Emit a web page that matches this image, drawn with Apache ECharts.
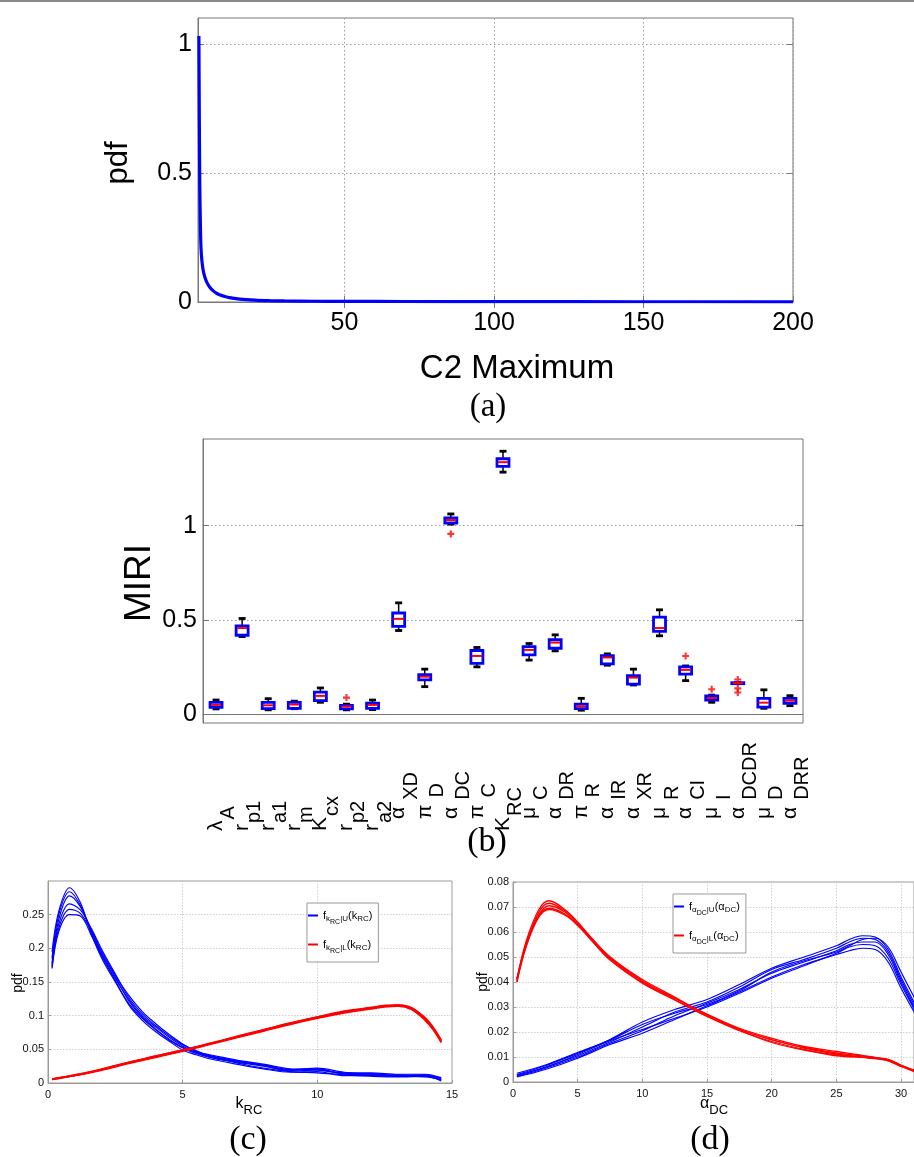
<!DOCTYPE html>
<html>
<head>
<meta charset="utf-8">
<script src="https://cdn.jsdelivr.net/npm/echarts@6/dist/echarts.min.js"></script>
<style>
  html, body { margin: 0; padding: 0; background: #fff; }
  #chart { width: 914px; height: 1157px; }
</style>
</head>
<body>
<div id="chart"></div>
<script>
// ---------- (a) pdf of the C2 maximum ----------
const c2X   = [1.3, 1.4, 1.5, 1.6, 1.8, 2.0, 2.3, 2.7, 3.2, 4, 5, 6, 7, 8, 10, 12, 15, 20, 25, 30, 40, 50, 70, 100, 150, 200];
const c2Pdf = [1.03, 0.80, 0.60, 0.45, 0.30, 0.21, 0.16, 0.125, 0.10, 0.075, 0.056, 0.044, 0.035, 0.029, 0.021, 0.016, 0.011, 0.007, 0.005, 0.004, 0.003, 0.0025, 0.002, 0.0015, 0.001, 0.0008];
const aXTicks = [50, 100, 150, 200];
const aYTicks = [0, 0.5, 1];

// ---------- (b) MIRI box plots ----------
const params = ['λ_A', 'r_p1', 'r_a1', 'r_m', 'K_cx', 'r_p2', 'r_a2', 'α_XD', 'π_D', 'α_DC', 'π_C', 'K_RC',
                'μ_C', 'α_DR', 'π_R', 'α_IR', 'α_XR', 'μ_R', 'α_CI', 'μ_I', 'α_DCDR', 'μ_D', 'α_DRR'];
const whiskerLow  = [0.027, 0.411, 0.022, 0.028, 0.062, 0.022, 0.023, 0.443, 0.145, 1.008, 0.250, 1.284, 0.286, 0.335, 0.020, 0.259, 0.154, 0.415, 0.177, 0.062, 0.161, 0.030, 0.044];
const quart1      = [0.035, 0.418, 0.028, 0.030, 0.071, 0.027, 0.030, 0.465, 0.181, 1.014, 0.269, 1.315, 0.314, 0.349, 0.028, 0.266, 0.158, 0.438, 0.211, 0.074, 0.162, 0.036, 0.057];
const medians     = [0.048, 0.456, 0.046, 0.050, 0.096, 0.040, 0.048, 0.505, 0.198, 1.030, 0.308, 1.337, 0.340, 0.379, 0.041, 0.300, 0.193, 0.456, 0.234, 0.085, 0.164, 0.060, 0.071];
const quart3      = [0.062, 0.468, 0.062, 0.062, 0.116, 0.046, 0.058, 0.536, 0.209, 1.041, 0.337, 1.355, 0.358, 0.394, 0.052, 0.310, 0.204, 0.514, 0.250, 0.096, 0.166, 0.083, 0.083];
const whiskerHigh = [0.074, 0.507, 0.081, 0.068, 0.138, 0.052, 0.074, 0.590, 0.238, 1.062, 0.353, 1.395, 0.374, 0.420, 0.083, 0.319, 0.238, 0.553, 0.255, 0.100, 0.167, 0.128, 0.097];
const outliers = [[5, 0.087], [9, 0.956], [18, 0.308], [19, 0.131], [20, 0.183], [20, 0.136], [20, 0.114]];
const bYTicks = [0, 0.5, 1];

// ---------- (c) conditional pdfs of k_RC ----------
const kX = [0.15, 0.4, 0.8, 1.2, 1.6, 2.0, 2.5, 3.0, 3.5, 4.0, 4.5, 5.0, 5.5, 6.0, 7.0, 8.0, 9.0, 10.0, 11.0, 12.0, 13.0, 14.0, 14.6];
const kU1 = [0.195, 0.255, 0.290, 0.268, 0.222, 0.185, 0.150, 0.118, 0.096, 0.079, 0.064, 0.052, 0.044, 0.038, 0.030, 0.022, 0.017, 0.015, 0.012, 0.010, 0.009, 0.010, 0.004];
const kU2 = [0.185, 0.250, 0.284, 0.264, 0.225, 0.190, 0.155, 0.124, 0.100, 0.083, 0.068, 0.055, 0.045, 0.039, 0.031, 0.025, 0.018, 0.019, 0.013, 0.012, 0.010, 0.009, 0.005];
const kU3 = [0.178, 0.243, 0.278, 0.262, 0.228, 0.195, 0.160, 0.130, 0.106, 0.088, 0.072, 0.058, 0.047, 0.040, 0.032, 0.026, 0.019, 0.021, 0.014, 0.014, 0.011, 0.012, 0.006];
const kU4 = [0.175, 0.236, 0.266, 0.257, 0.230, 0.198, 0.162, 0.127, 0.103, 0.085, 0.070, 0.057, 0.048, 0.041, 0.033, 0.027, 0.020, 0.022, 0.016, 0.013, 0.012, 0.011, 0.007];
const kU5 = [0.172, 0.230, 0.258, 0.252, 0.226, 0.192, 0.158, 0.122, 0.098, 0.080, 0.065, 0.053, 0.046, 0.042, 0.034, 0.028, 0.021, 0.020, 0.015, 0.015, 0.013, 0.013, 0.008];
const kU6 = [0.170, 0.225, 0.250, 0.248, 0.220, 0.188, 0.152, 0.116, 0.093, 0.076, 0.062, 0.049, 0.042, 0.036, 0.028, 0.021, 0.016, 0.017, 0.011, 0.011, 0.010, 0.010, 0.003];
const kXL = [0.15, 1, 2, 3, 4, 5, 6, 7, 8, 9, 10, 11, 12, 12.5, 13, 13.5, 14, 14.3, 14.6];
const kL1 = [0.006, 0.011, 0.020, 0.030, 0.039, 0.048, 0.058, 0.068, 0.078, 0.088, 0.097, 0.105, 0.111, 0.114, 0.115, 0.110, 0.094, 0.080, 0.061];
const kL2 = [0.006, 0.012, 0.021, 0.031, 0.040, 0.049, 0.059, 0.069, 0.079, 0.089, 0.098, 0.106, 0.112, 0.115, 0.116, 0.112, 0.096, 0.081, 0.062];
const kL3 = [0.005, 0.011, 0.019, 0.029, 0.038, 0.047, 0.057, 0.067, 0.077, 0.087, 0.096, 0.104, 0.110, 0.113, 0.114, 0.109, 0.093, 0.079, 0.060];
const kL4 = [0.006, 0.012, 0.020, 0.030, 0.040, 0.049, 0.058, 0.069, 0.079, 0.089, 0.098, 0.107, 0.112, 0.114, 0.116, 0.111, 0.095, 0.082, 0.063];
const kL5 = [0.005, 0.011, 0.020, 0.031, 0.039, 0.048, 0.058, 0.068, 0.078, 0.088, 0.097, 0.105, 0.111, 0.115, 0.115, 0.111, 0.097, 0.083, 0.064];

// ---------- (d) conditional pdfs of alpha_DC ----------
const aXU = [0.3, 2.5, 5, 7.5, 10, 12.5, 15, 17.5, 20, 22.5, 25, 26, 27, 28, 29, 30, 31.5];
const aU1 = [0.0030, 0.0065, 0.0115, 0.0170, 0.0240, 0.0290, 0.0330, 0.0390, 0.0455, 0.0500, 0.0545, 0.0570, 0.0585, 0.0580, 0.0530, 0.0420, 0.0270];
const aU2 = [0.0025, 0.0060, 0.0105, 0.0160, 0.0220, 0.0280, 0.0320, 0.0380, 0.0450, 0.0490, 0.0535, 0.0560, 0.0575, 0.0570, 0.0520, 0.0410, 0.0260];
const aU3 = [0.0022, 0.0055, 0.0100, 0.0155, 0.0205, 0.0265, 0.0315, 0.0370, 0.0435, 0.0480, 0.0525, 0.0550, 0.0560, 0.0560, 0.0510, 0.0400, 0.0250];
const aU4 = [0.0028, 0.0058, 0.0110, 0.0165, 0.0210, 0.0255, 0.0300, 0.0355, 0.0415, 0.0465, 0.0515, 0.0540, 0.0550, 0.0545, 0.0495, 0.0390, 0.0245];
const aU5 = [0.0020, 0.0050, 0.0095, 0.0150, 0.0195, 0.0250, 0.0305, 0.0360, 0.0420, 0.0470, 0.0510, 0.0525, 0.0535, 0.0530, 0.0480, 0.0375, 0.0235];
const aU6 = [0.0035, 0.0068, 0.0118, 0.0168, 0.0230, 0.0275, 0.0310, 0.0365, 0.0440, 0.0485, 0.0520, 0.0545, 0.0570, 0.0575, 0.0540, 0.0440, 0.0290];
const aXL = [0.3, 1, 2, 2.8, 4, 5, 6, 7.5, 10, 12.5, 15, 17.5, 20, 22.5, 25, 27.5, 29, 30, 31.5];
const aL1 = [0.041, 0.056, 0.069, 0.0725, 0.0690, 0.0640, 0.0580, 0.0500, 0.0405, 0.0335, 0.0272, 0.0215, 0.0175, 0.0142, 0.0122, 0.0102, 0.0088, 0.0065, 0.0035];
const aL2 = [0.041, 0.055, 0.067, 0.0705, 0.0680, 0.0630, 0.0578, 0.0500, 0.0410, 0.0340, 0.0268, 0.0210, 0.0170, 0.0136, 0.0112, 0.0096, 0.0085, 0.0062, 0.0033];
const aL3 = [0.040, 0.054, 0.066, 0.0690, 0.0668, 0.0628, 0.0570, 0.0490, 0.0395, 0.0328, 0.0262, 0.0205, 0.0162, 0.0130, 0.0105, 0.0098, 0.0089, 0.0066, 0.0036];
const aL4 = [0.041, 0.055, 0.068, 0.0715, 0.0685, 0.0635, 0.0575, 0.0495, 0.0402, 0.0336, 0.0270, 0.0212, 0.0168, 0.0138, 0.0116, 0.0101, 0.0090, 0.0068, 0.0037];
const aL5 = [0.040, 0.054, 0.0665, 0.0695, 0.0672, 0.0626, 0.0572, 0.0488, 0.0398, 0.0330, 0.0264, 0.0208, 0.0158, 0.0128, 0.0108, 0.0097, 0.0086, 0.0063, 0.0032];

const SANS = '"Liberation Sans", Arial, Helvetica, sans-serif';
const SERIF = '"Liberation Serif", "Times New Roman", serif';
const BLUE = '#0000ff';
const RED = '#ff0000';

const pairs = (xs, ys) => xs.map((x, i) => [x, ys[i]]);

function curve(name, xi, yi, xs, ys, color, width) {
  return {
    type: 'line', name, xAxisIndex: xi, yAxisIndex: yi,
    data: pairs(xs, ys), showSymbol: false, smooth: 0.35,
    lineStyle: { color, width }, itemStyle: { color },
    silent: true, animation: false
  };
}

// box plot glyph: black whiskers and caps, blue box, red median
function renderBox(params, api) {
  const i = api.value(0);
  const lo = api.coord([i, api.value(1)]);
  const q1 = api.coord([i, api.value(2)]);
  const md = api.coord([i, api.value(3)]);
  const q3 = api.coord([i, api.value(4)]);
  const hi = api.coord([i, api.value(5)]);
  const x = md[0];
  const bw = 12, cw = 7;
  const black = { stroke: '#000', lineWidth: 1.5 };
  const cap = { stroke: '#000', lineWidth: 2.8 };
  return {
    type: 'group',
    children: [
      { type: 'line', shape: { x1: x, y1: hi[1], x2: x, y2: q3[1] }, style: black },
      { type: 'line', shape: { x1: x, y1: q1[1], x2: x, y2: lo[1] }, style: black },
      { type: 'line', shape: { x1: x - cw / 2, y1: hi[1], x2: x + cw / 2, y2: hi[1] }, style: cap },
      { type: 'line', shape: { x1: x - cw / 2, y1: lo[1], x2: x + cw / 2, y2: lo[1] }, style: cap },
      { type: 'rect', shape: { x: x - bw / 2, y: q3[1], width: bw, height: Math.max(q1[1] - q3[1], 1) },
        style: { fill: '#fff', stroke: BLUE, lineWidth: 2.8 } },
      { type: 'line', shape: { x1: x - bw / 2 + 1, y1: md[1], x2: x + bw / 2 - 1, y2: md[1] },
        style: { stroke: RED, lineWidth: 2 } }
    ]
  };
}

const boxData = params.map((p, i) => [i, whiskerLow[i], quart1[i], medians[i], quart3[i], whiskerHigh[i]]);

// parameter names: symbol + subscript; Greek symbols carry extra spacing
function paramLabel(v) {
  const k = v.indexOf('_');
  const head = v.slice(0, k);
  const style = /[απμ]/.test(head) ? 'g' : 'm';
  return '{' + style + '|' + head + '}{s|' + v.slice(k + 1) + '}';
}

const dotted = { show: true, lineStyle: { color: '#9a9a9a', type: [1.5, 2.5], width: 1 } };
const lightDotted = { show: true, lineStyle: { color: '#cfcfcf', type: [1.5, 1.5], width: 1 } };
const smallLabel = { fontFamily: SANS, fontSize: 11, color: '#111' };

const legendRich = {
  m:  { fontFamily: SANS, fontSize: 11, lineHeight: 11, verticalAlign: 'top', color: '#000' },
  s1: { fontFamily: SANS, fontSize: 8, lineHeight: 8, padding: [5, 0, 0, 0], verticalAlign: 'top', color: '#000' },
  s2: { fontFamily: SANS, fontSize: 7, lineHeight: 7, padding: [9, 0, 0, 0], verticalAlign: 'top', color: '#000' }
};
const legendText = {
  cU: '{m|f}{s1|k}{s2|RC}{s1||U}{m|(k}{s1|RC}{m|)}',
  cL: '{m|f}{s1|k}{s2|RC}{s1||L}{m|(k}{s1|RC}{m|)}',
  dU: '{m|f}{s1|α}{s2|DC}{s1||U}{m|(α}{s1|DC}{m|)}',
  dL: '{m|f}{s1|α}{s2|DC}{s1||L}{m|(α}{s1|DC}{m|)}'
};
function legendBox(names, left, top) {
  return {
    data: names, left, top, orient: 'vertical', selectedMode: false,
    icon: 'rect', itemWidth: 10, itemHeight: 2, itemGap: 13,
    padding: [7, 6, 7, 1], borderColor: '#9a9a9a', borderWidth: 1, backgroundColor: '#fff',
    formatter: n => legendText[n],
    textStyle: { fontFamily: SANS, fontSize: 11, rich: legendRich }
  };
}

const chart = echarts.init(document.getElementById('chart'), null, { renderer: 'canvas' });

const option = {
  backgroundColor: '#fff',
  animation: false,
  grid: [
    { left: 198, top: 18, width: 595, height: 284, show: true, borderColor: '#777', borderWidth: 1 },
    { left: 203, top: 439, width: 600, height: 284, show: true, borderColor: '#777', borderWidth: 1 },
    { left: 48, top: 881, width: 404, height: 202, show: true, borderColor: '#9a9a9a', borderWidth: 1 },
    { left: 513, top: 882, width: 403, height: 200, show: true, borderColor: '#9a9a9a', borderWidth: 1 }
  ],
  xAxis: [
    { // (a) bottom
      gridIndex: 0, type: 'value', min: 1, max: 200,
      axisLine: { show: true, lineStyle: { color: '#777' } },
      axisTick: { show: true, inside: true, length: 6, customValues: aXTicks, lineStyle: { color: '#777' } },
      axisLabel: { customValues: aXTicks, fontFamily: SANS, fontSize: 25, color: '#000', margin: 9 },
      splitLine: dotted
    },
    { // (a) top ticks
      gridIndex: 0, type: 'value', min: 1, max: 200, position: 'top',
      axisLine: { show: false },
      axisTick: { show: true, inside: true, length: 6, customValues: [50, 100, 150], lineStyle: { color: '#777' } },
      axisLabel: { show: false }, splitLine: { show: false }
    },
    { // (b) parameters
      gridIndex: 1, type: 'category', data: params, boundaryGap: true,
      axisLine: { show: true, lineStyle: { color: '#777' } },
      axisTick: { show: false },
      axisLabel: {
        interval: 0, rotate: 90, align: 'left', margin: 108, color: '#000',
        formatter: paramLabel,
        rich: {
          m: { fontFamily: SANS, fontSize: 21, lineHeight: 21, verticalAlign: 'top', color: '#000' },
          g: { fontFamily: SANS, fontSize: 21, lineHeight: 21, padding: [0, 6, 0, 12], verticalAlign: 'top', color: '#000' },
          s: { fontFamily: SANS, fontSize: 20, lineHeight: 20, padding: [13, 0, 0, 1], verticalAlign: 'top', color: '#000' }
        }
      },
      splitLine: { show: false }
    },
    { // (c)
      gridIndex: 2, type: 'value', min: 0, max: 15, interval: 5,
      axisLine: { show: true, lineStyle: { color: '#9a9a9a' } },
      axisTick: { show: true, inside: true, length: 3, lineStyle: { color: '#9a9a9a' } },
      axisLabel: Object.assign({ margin: 6 }, smallLabel),
      splitLine: lightDotted
    },
    { // (d)
      gridIndex: 3, type: 'value', min: 0, max: 31, interval: 5,
      axisLine: { show: true, lineStyle: { color: '#9a9a9a' } },
      axisTick: { show: true, inside: true, length: 3, lineStyle: { color: '#9a9a9a' } },
      axisLabel: Object.assign({ margin: 6, showMaxLabel: false }, smallLabel),
      splitLine: lightDotted
    }
  ],
  yAxis: [
    { // (a) left
      gridIndex: 0, type: 'value', min: 0, max: 1.1,
      axisLine: { show: true, lineStyle: { color: '#777' } },
      axisTick: { show: true, inside: true, length: 6, customValues: aYTicks, lineStyle: { color: '#777' } },
      axisLabel: { customValues: aYTicks, fontFamily: SANS, fontSize: 25, color: '#000', margin: 6 },
      splitLine: dotted
    },
    { // (a) right ticks
      gridIndex: 0, type: 'value', min: 0, max: 1.1, position: 'right',
      axisLine: { show: false },
      axisTick: { show: true, inside: true, length: 6, customValues: [0.5, 1], lineStyle: { color: '#777' } },
      axisLabel: { show: false }, splitLine: { show: false }
    },
    { // (b) left
      gridIndex: 1, type: 'value', min: -0.048, max: 1.46,
      axisLine: { show: true, lineStyle: { color: '#777' } },
      axisTick: { show: true, inside: true, length: 6, customValues: bYTicks, lineStyle: { color: '#777' } },
      axisLabel: { customValues: bYTicks, fontFamily: SANS, fontSize: 25, color: '#000', margin: 6 },
      splitLine: dotted
    },
    { // (b) right ticks
      gridIndex: 1, type: 'value', min: -0.048, max: 1.46, position: 'right',
      axisLine: { show: false },
      axisTick: { show: true, inside: true, length: 6, customValues: bYTicks, lineStyle: { color: '#777' } },
      axisLabel: { show: false }, splitLine: { show: false }
    },
    { // (c)
      gridIndex: 2, type: 'value', min: 0, max: 0.3, interval: 0.05,
      axisLine: { show: true, lineStyle: { color: '#9a9a9a' } },
      axisTick: { show: true, inside: true, length: 3, lineStyle: { color: '#9a9a9a' } },
      axisLabel: Object.assign({ margin: 4, showMaxLabel: false }, smallLabel),
      splitLine: lightDotted
    },
    { // (d)
      gridIndex: 3, type: 'value', min: 0, max: 0.08, interval: 0.01,
      axisLine: { show: true, lineStyle: { color: '#9a9a9a' } },
      axisTick: { show: true, inside: true, length: 3, lineStyle: { color: '#9a9a9a' } },
      axisLabel: Object.assign({ margin: 4 }, smallLabel),
      splitLine: lightDotted
    }
  ],
  legend: [
    legendBox(['cU', 'cL'], 307, 903),
    legendBox(['dU', 'dL'], 673, 894)
  ],
  series: [
    curve('C2', 0, 0, c2X, c2Pdf, BLUE, 3.2),

    {
      type: 'custom', name: 'MIRI', xAxisIndex: 2, yAxisIndex: 2,
      data: boxData, renderItem: renderBox, encode: { x: 0, y: [1, 2, 3, 4, 5] }, silent: true
    },
    {
      type: 'scatter', name: 'outliers', xAxisIndex: 2, yAxisIndex: 2,
      data: outliers, symbol: 'path://M3.5,0H6.5V3.5H10V6.5H6.5V10H3.5V6.5H0V3.5H3.5Z', symbolSize: 7,
      itemStyle: { color: RED }, silent: true
    },

    curve('cU', 3, 4, kX, kU1, BLUE, 1.2),
    curve('cU', 3, 4, kX, kU2, BLUE, 1.2),
    curve('cU', 3, 4, kX, kU3, BLUE, 1.2),
    curve('cU', 3, 4, kX, kU4, BLUE, 1.2),
    curve('cU', 3, 4, kX, kU5, BLUE, 1.2),
    curve('cU', 3, 4, kX, kU6, BLUE, 1.2),
    curve('cL', 3, 4, kXL, kL1, RED, 1.5),
    curve('cL', 3, 4, kXL, kL2, RED, 1.5),
    curve('cL', 3, 4, kXL, kL3, RED, 1.5),
    curve('cL', 3, 4, kXL, kL4, RED, 1.5),
    curve('cL', 3, 4, kXL, kL5, RED, 1.5),

    curve('dU', 4, 5, aXU, aU1, BLUE, 1.2),
    curve('dU', 4, 5, aXU, aU2, BLUE, 1.2),
    curve('dU', 4, 5, aXU, aU3, BLUE, 1.2),
    curve('dU', 4, 5, aXU, aU4, BLUE, 1.2),
    curve('dU', 4, 5, aXU, aU5, BLUE, 1.2),
    curve('dU', 4, 5, aXU, aU6, BLUE, 1.2),
    curve('dL', 4, 5, aXL, aL1, RED, 1.3),
    curve('dL', 4, 5, aXL, aL2, RED, 1.3),
    curve('dL', 4, 5, aXL, aL3, RED, 1.3),
    curve('dL', 4, 5, aXL, aL4, RED, 1.3),
    curve('dL', 4, 5, aXL, aL5, RED, 1.3)
  ],
  graphic: [
    { type: 'line', shape: { x1: 0, y1: 1, x2: 914, y2: 1 }, style: { stroke: '#8a8a8a', lineWidth: 2 }, silent: true },

    // axis titles
    { type: 'text', x: 118, y: 163, rotation: Math.PI / 2, silent: true,
      style: { text: 'pdf', fontFamily: SANS, fontSize: 31, fill: '#000', align: 'center', verticalAlign: 'middle' } },
    { type: 'text', x: 517, y: 369, silent: true,
      style: { text: 'C2 Maximum', fontFamily: SANS, fontSize: 33, fill: '#000', align: 'center', verticalAlign: 'middle' } },
    { type: 'text', x: 140, y: 583, rotation: Math.PI / 2, silent: true,
      style: { text: 'MIRI', fontFamily: SANS, fontSize: 37, fill: '#000', align: 'center', verticalAlign: 'middle' } },
    { type: 'text', x: 18, y: 983, rotation: Math.PI / 2, silent: true,
      style: { text: 'pdf', fontFamily: SANS, fontSize: 14, fill: '#000', align: 'center', verticalAlign: 'middle' } },
    { type: 'text', x: 483, y: 982, rotation: Math.PI / 2, silent: true,
      style: { text: 'pdf', fontFamily: SANS, fontSize: 14, fill: '#000', align: 'center', verticalAlign: 'middle' } },
    { type: 'text', x: 249, y: 1104, silent: true,
      style: { text: '{m|k}{s|RC}', align: 'center', verticalAlign: 'middle',
        rich: { m: { fontFamily: SANS, fontSize: 16, lineHeight: 16, verticalAlign: 'top', color: '#000' },
                s: { fontFamily: SANS, fontSize: 13, lineHeight: 13, padding: [8, 0, 0, 0], verticalAlign: 'top', color: '#000' } } } },
    { type: 'text', x: 714, y: 1104, silent: true,
      style: { text: '{m|α}{s|DC}', align: 'center', verticalAlign: 'middle',
        rich: { m: { fontFamily: SANS, fontSize: 16, lineHeight: 16, verticalAlign: 'top', color: '#000' },
                s: { fontFamily: SANS, fontSize: 13, lineHeight: 13, padding: [8, 0, 0, 0], verticalAlign: 'top', color: '#000' } } } },

    // panel captions
    { type: 'text', x: 488, y: 407, silent: true,
      style: { text: '(a)', fontFamily: SERIF, fontSize: 33, fill: '#000', align: 'center', verticalAlign: 'middle' } },
    { type: 'text', x: 487, y: 842, silent: true,
      style: { text: '(b)', fontFamily: SERIF, fontSize: 34, fill: '#000', align: 'center', verticalAlign: 'middle' } },
    { type: 'text', x: 248, y: 1140, silent: true,
      style: { text: '(c)', fontFamily: SERIF, fontSize: 34, fill: '#000', align: 'center', verticalAlign: 'middle' } },
    { type: 'text', x: 710, y: 1140, silent: true,
      style: { text: '(d)', fontFamily: SERIF, fontSize: 34, fill: '#000', align: 'center', verticalAlign: 'middle' } }
  ]
};

chart.setOption(option);
</script>
</body>
</html>
